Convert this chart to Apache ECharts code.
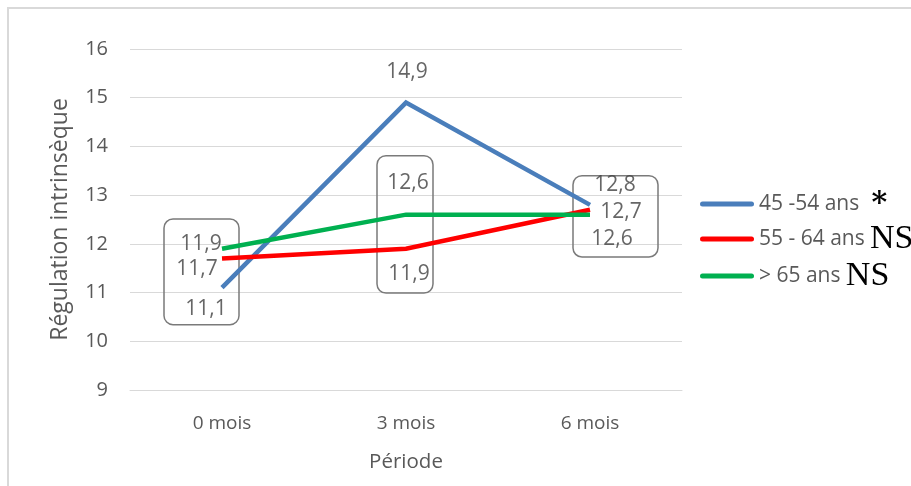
<!DOCTYPE html>
<html>
<head>
<meta charset="utf-8">
<script src="https://cdn.jsdelivr.net/npm/echarts@6/dist/echarts.min.js"></script>
<style>
html,body{margin:0;padding:0;background:#fff;}
#c{width:911px;height:486px;}
</style>
</head>
<body>
<div id="c"></div>
<script>
// ---- data ----
const categories = ['0 mois', '3 mois', '6 mois'];
const seriesNames = ['45 -54 ans', '55 - 64 ans', '> 65 ans'];
const significance = ['*', 'NS', 'NS'];
const group45_54 = [11.1, 14.9, 12.8];
const group55_64 = [11.7, 11.9, 12.7];
const group65 = [11.9, 12.6, 12.6];
const yTicks = [9, 10, 11, 12, 13, 14, 15, 16];

// ---- styling ----
const colors = ['#4a7ebb', '#ff0000', '#00b050'];
const FONT = 'Open Sans';
const TXT = '#595959';
const labelOffsets = [
  [[-16, 21], [1, -31], [25, -20]],
  [[-25, 11], [3, 25], [31, 2]],
  [[-21, -5], [2, -32], [22, 24]]
];
const allSeries = [group45_54, group55_64, group65];

const chart = echarts.init(document.getElementById('c'), null, {renderer: 'canvas'});

const series = [];
// boxes around label groups
series.push({
  type: 'custom',
  z: 1,
  silent: true,
  data: categories.map((c, i) => [i]),
  renderItem: function (params, api) {
    const i = api.value(0);
    const spec = [
      {lo: 10.34, hi: 12.51, dx0: -58, dx1: 17},
      {lo: 10.99, hi: 13.81, dx0: -29, dx1: 27},
      {lo: 11.73, hi: 13.40, dx0: -17, dx1: 68}
    ][i];
    const top = api.coord([i, spec.hi]);
    const bot = api.coord([i, spec.lo]);
    return {
      type: 'rect',
      shape: {x: top[0] + spec.dx0, y: top[1], width: spec.dx1 - spec.dx0, height: bot[1] - top[1], r: 9},
      style: {fill: 'none', stroke: '#7a7a7a', lineWidth: 1.5}
    };
  }
});
allSeries.forEach((vals, s) => {
  series.push({
    name: seriesNames[s],
    type: 'line',
    z: 3,
    data: vals,
    symbol: 'none',
    lineStyle: {color: colors[s], width: 4.5, join: 'miter'},
    itemStyle: {color: colors[s]},
    emphasis: {disabled: true}
  });
  series.push({
    type: 'scatter',
    z: 4,
    silent: true,
    symbolSize: 0,
    data: vals.map((v, i) => ({
      value: [i, v],
      label: {offset: labelOffsets[s][i]}
    })),
    label: {
      show: true,
      position: 'inside',
      fontFamily: FONT,
      fontSize: 21,
      color: '#404040',
      formatter: p => String(p.value[1]).replace('.', ',')
    }
  });
});

const iconPath = 'path://M2.5,0 L51.5,0 A2.5,2.5 0 0 1 51.5,5 L2.5,5 A2.5,2.5 0 0 1 2.5,0 Z';

chart.setOption({
  animation: false,
  backgroundColor: '#fff',
  graphic: [
    {type: 'line', shape: {x1: 8, y1: 8, x2: 911, y2: 8}, style: {stroke: '#d9d9d9', lineWidth: 2}},
    {type: 'line', shape: {x1: 8, y1: 7, x2: 8, y2: 486}, style: {stroke: '#d9d9d9', lineWidth: 2}}
  ],
  grid: {left: 130, right: 229, top: 49, bottom: 96},
  xAxis: {
    type: 'category',
    data: categories,
    boundaryGap: true,
    name: 'Période',
    nameLocation: 'middle',
    nameGap: 62,
    nameTextStyle: {fontFamily: FONT, fontSize: 20.5, color: TXT},
    axisLine: {lineStyle: {color: '#d9d9d9', width: 1}},
    axisTick: {show: false},
    axisLabel: {fontFamily: FONT, fontSize: 19, color: TXT, margin: 24}
  },
  yAxis: {
    type: 'value',
    min: yTicks[0],
    max: yTicks[yTicks.length - 1],
    interval: 1,
    name: 'Régulation intrinsèque',
    nameLocation: 'middle',
    nameGap: 58,
    nameTextStyle: {fontFamily: FONT, fontSize: 23, color: TXT},
    axisLine: {show: false},
    axisTick: {show: false},
    splitLine: {lineStyle: {color: '#d9d9d9', width: 1}},
    axisLabel: {fontFamily: FONT, fontSize: 20, color: TXT, margin: 22}
  },
  legend: {
    orient: 'vertical',
    left: 695,
    top: 184,
    itemWidth: 54,
    itemHeight: 5,
    itemGap: 3,
    icon: iconPath,
    data: seriesNames,
    formatter: function (name) {
      const i = seriesNames.indexOf(name);
      const key = significance[i] === '*' ? 'c' : 'b';
      return '{a|' + name + '} {' + key + '|' + significance[i] + '}';
    },
    textStyle: {
      rich: {
        a: {fontFamily: FONT, fontSize: 21, color: TXT, lineHeight: 34, verticalAlign: 'middle'},
        b: {fontFamily: 'Liberation Serif', fontSize: 34, color: '#000', lineHeight: 34, verticalAlign: 'middle', padding: [0, 0, 0, 2]},
        c: {fontFamily: 'DejaVu Serif', fontWeight: 'bold', fontSize: 30, color: '#000', lineHeight: 34, verticalAlign: 'middle', padding: [0, 0, 0, 9]}
      }
    }
  },
  series: series
});
</script>
</body>
</html>
